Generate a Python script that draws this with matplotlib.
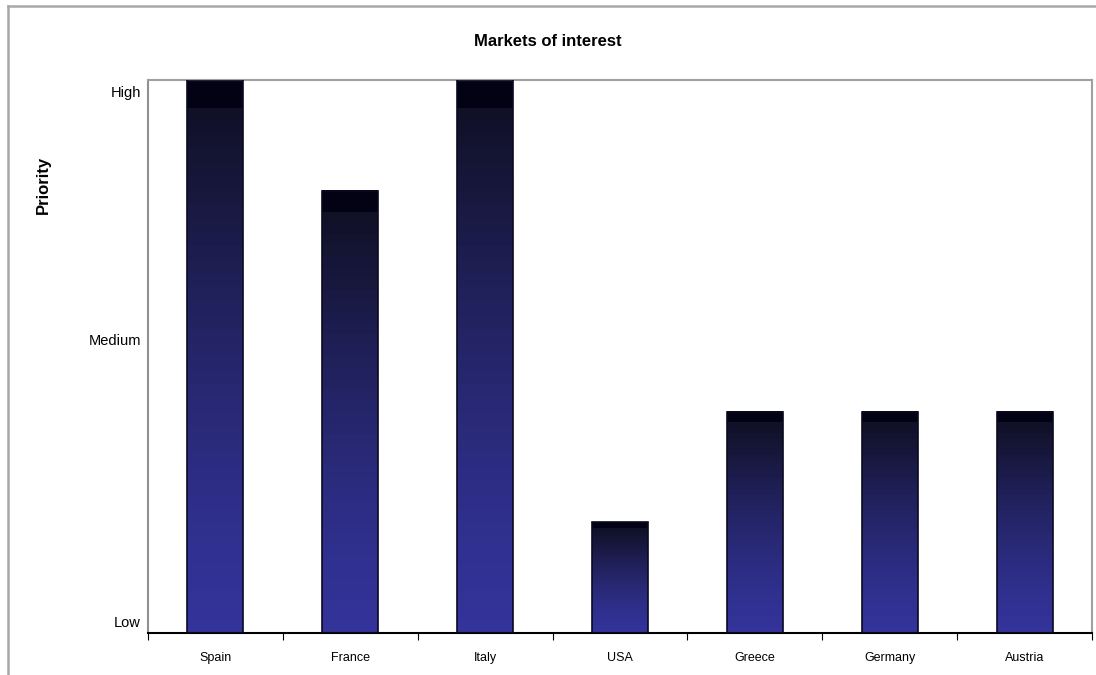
import numpy as np
import matplotlib.pyplot as plt
from matplotlib.lines import Line2D

plt.rcParams['font.family'] = ['Liberation Sans', 'DejaVu Sans']

markets = ["Spain", "France", "Italy", "USA", "Greece", "Germany", "Austria"]
priority = [10, 8, 10, 2, 4, 4, 4]
level_ticks = [0.2, 5.3, 9.8]
level_labels = ["Low", "Medium", "High"]

BOTTOM_RGB = np.array([51, 51, 153]) / 255
UPPER_RGB = np.array([14, 14, 30]) / 255
CAP_RGB = np.array([2, 2, 20]) / 255


def bar_gradient(steps=40, cap=0.06, gamma=1.4):
    """Stepped vertical fill, dark cap on top, blue at the base."""
    t = np.linspace(0, 1, steps)[:, None] ** gamma
    rows = BOTTOM_RGB + (UPPER_RGB - BOTTOM_RGB) * t
    n_cap = max(1, int(round(steps * cap)))
    rows[-n_cap:] = CAP_RGB
    return rows[::-1][:, None, :]


fig = plt.figure(figsize=(10.96, 6.75), dpi=100)
ax = fig.add_axes([148 / 1096, 1 - 633 / 675, (1092 - 148) / 1096, (633 - 80) / 675])

ymax = 10
width = 0.415
x = np.arange(len(markets))
ax.set_xlim(-0.5, len(markets) - 0.5)
ax.set_ylim(0, ymax)

grad = bar_gradient()
for xi, val in zip(x, priority):
    x0, x1 = xi - width / 2, xi + width / 2
    ax.imshow(grad, extent=[x0, x1, 0, val], aspect='auto',
              interpolation='nearest', zorder=2)
    ax.bar(xi, val, width=width, facecolor='none', edgecolor='#0a0a20',
           linewidth=1.2, zorder=3)

ax.set_xticks(x)
ax.set_xticklabels(markets, fontsize=9)
ax.set_xticks(np.arange(-0.5, len(markets)), minor=True)
ax.tick_params(axis='x', which='major', length=0, pad=14)
ax.tick_params(axis='x', which='minor', length=5, width=0.8, color='black', direction='out')

ax.set_yticks(level_ticks)
ax.set_yticklabels(level_labels, fontsize=10.5)
ax.tick_params(axis='y', length=0, pad=5)

ax.spines['top'].set_color('#a0a0a0')
ax.spines['right'].set_color('#a0a0a0')
ax.spines['left'].set_color('#909090')
ax.spines['bottom'].set_color('black')
for sp in ax.spines.values():
    sp.set_linewidth(1.5)

fig.text(548 / 1096, 1 - 41 / 675, "Markets of interest", ha='center', va='center',
         fontsize=12, fontweight='bold')
fig.text(43 / 1096, 1 - 185 / 675, "Priority", ha='center', va='center',
         rotation=90, fontsize=12, fontweight='bold')

# outer chart frame, only top and left edges fall inside the canvas
fig.add_artist(Line2D([8 / 1096, 1], [1 - 6 / 675, 1 - 6 / 675],
                      transform=fig.transFigure, color='#a8a8a8', linewidth=1.8))
fig.add_artist(Line2D([8 / 1096, 8 / 1096], [0, 1 - 6 / 675],
                      transform=fig.transFigure, color='#a8a8a8', linewidth=1.8))

fig.savefig("out.png", dpi=100, facecolor='white')
